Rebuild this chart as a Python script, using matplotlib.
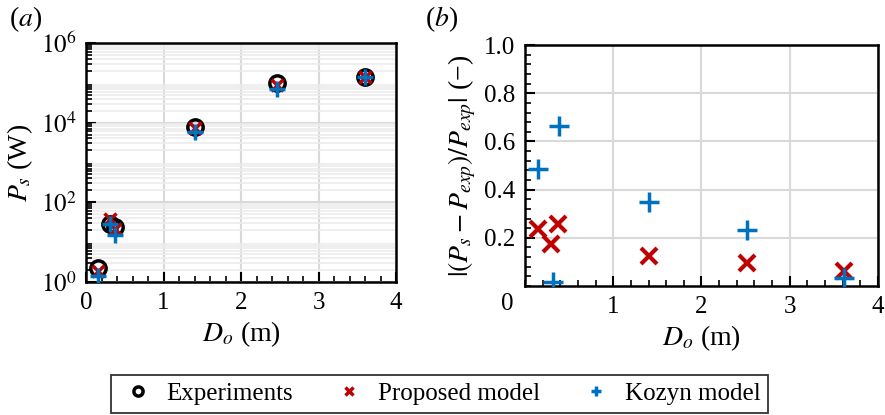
import numpy as np
import matplotlib
matplotlib.use('Agg')
import matplotlib.pyplot as plt
from matplotlib.ticker import MultipleLocator, LogLocator, NullFormatter
from matplotlib.transforms import blended_transform_factory

plt.rcParams['font.family'] = ['Liberation Serif', 'DejaVu Serif']
plt.rcParams['mathtext.fontset'] = 'stix'
plt.rcParams['font.size'] = 18

# outer diameter (m)
D_o = [0.15, 0.31, 0.38, 1.4, 2.47, 3.6]

# panel (a): shaft power (W)
P_exp = [2.2, 29, 24, 7800, 100000, 141000]
P_prop = [1.9, 39, 22, 7200, 87000, 138000]
P_kozyn = [1.4, 29, 14.8, 5850, 68000, 138000]

# panel (b): relative error (-)
D_err_prop = [0.145, 0.30, 0.37, 1.40, 2.51, 3.61]
err_prop = [0.238, 0.176, 0.259, 0.123, 0.096, 0.061]
D_err_kozyn = [0.145, 0.315, 0.38, 1.40, 2.51, 3.62]
err_kozyn = [0.485, 0.018, 0.662, 0.35, 0.234, 0.032]

RED = '#c00000'
BLUE = '#0070c0'

fig = plt.figure(figsize=(8.85, 4.15), dpi=100)
ax1 = fig.add_axes([0.0972, 0.3205, 0.3503, 0.576])
ax2 = fig.add_axes([0.5932, 0.3108, 0.3989, 0.5807])

def style(ax):
    for s in ax.spines.values():
        s.set_linewidth(1.8)
    ax.tick_params(which='major', direction='in', length=7, width=1.5, pad=7)
    ax.tick_params(which='minor', direction='in', length=4, width=1.2)
    ax.set_axisbelow(True)

# (a)
ax1.plot(D_o, P_exp, 'o', ms=11, mfc='none', mec='black', mew=2.5, label='Experiments', zorder=3)
ax1.plot(D_o, P_prop, 'x', ms=9, color=RED, mew=2.5, label='Proposed model', zorder=4)
ax1.plot(D_o, P_kozyn, '+', ms=11, color=BLUE, mew=2.5, label='Kozyn model', zorder=5)
ax1.set_yscale('log')
ax1.set_xlim(0, 4)
ax1.set_ylim(1, 1e6)
ax1.set_yticks([1, 1e2, 1e4, 1e6])
ax1.set_yticklabels([r'$10^0$', r'$10^2$', r'$10^4$', r'$10^6$'])
ax1.yaxis.set_minor_locator(LogLocator(base=10, subs=np.arange(2, 10), numticks=20))
ax1.yaxis.set_minor_formatter(NullFormatter())
ax1.xaxis.set_major_locator(MultipleLocator(1))
ax1.xaxis.set_minor_locator(MultipleLocator(0.2))
ax1.grid(which='major', color='#d9d9d9', lw=1.5)
ax1.grid(which='minor', axis='y', color='#ececec', lw=1.2)
ax1.set_xlabel(r'$D_o$ (m)', fontsize=20, labelpad=4)
ax1.set_ylabel(r'$P_s$ (W)', fontsize=20, labelpad=4)
style(ax1)

# (b)
ax2.plot(D_err_prop, err_prop, 'x', ms=11, color=RED, mew=3, zorder=4)
ax2.plot(D_err_kozyn, err_kozyn, '+', ms=14, color=BLUE, mew=2.5, zorder=5)
ax2.set_xlim(0, 4)
ax2.set_ylim(0, 1)
ax2.set_yticks([0.2, 0.4, 0.6, 0.8, 1.0])
ax2.yaxis.set_minor_locator(MultipleLocator(0.04))
ax2.set_xticks([1, 2, 3, 4])
ax2.xaxis.set_minor_locator(MultipleLocator(0.2))
ax2.grid(which='major', color='#d9d9d9', lw=1.5)
ax2.set_xlabel(r'$D_o$ (m)', fontsize=20, labelpad=4)
ax2.set_ylabel(r'$|(P_s - P_{exp})/P_{exp}|$ (−)', fontsize=20, labelpad=4)
style(ax2)
# the "0" of panel (b) sits left of the axis corner
trans = blended_transform_factory(ax2.transData, ax2.transAxes)
ax2.text(-0.2, -0.03, '0', transform=trans, ha='center', va='top', fontsize=18)

fig.text(0.010, 0.955, r'($a$)', fontsize=20, va='center')
fig.text(0.480, 0.955, r'($b$)', fontsize=20, va='center')

fig.legend(loc='center', bbox_to_anchor=(0.497, 0.051), ncol=3, frameon=True,
           fancybox=False, edgecolor='black', markerscale=0.6, handletextpad=0.4,
           columnspacing=1.5, fontsize=18, borderpad=0.3, handlelength=1.5)
fig.legends[0].get_frame().set_linewidth(1.3)

fig.savefig('out.png', dpi=100)
